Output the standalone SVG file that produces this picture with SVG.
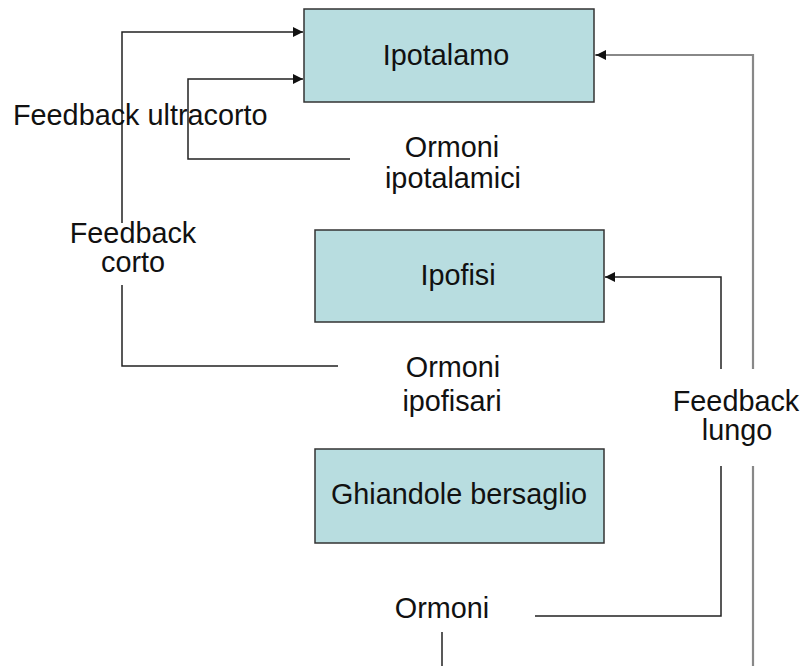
<svg xmlns="http://www.w3.org/2000/svg" width="803" height="666" viewBox="0 0 803 666">
<style>
.box{fill:#b8dde0;stroke:#333;stroke-width:1.5}
.t{font-family:"Liberation Sans",Arial,sans-serif;font-size:28.8px;fill:#111;text-anchor:middle}
.tl{font-family:"Liberation Sans",Arial,sans-serif;font-size:28.8px;fill:#111}
.c{fill:none;stroke:#222;stroke-width:1.5}
.g{fill:none;stroke:#888;stroke-width:2.2}
</style>
<defs>
<marker id="ah" markerWidth="10" markerHeight="10" refX="10" refY="5" orient="auto" markerUnits="userSpaceOnUse">
<path d="M0,0 L10,5 L0,10 Z" fill="#111"/>
</marker>
</defs>
<g id="connectors">
<polyline class="c" points="122,223 122,32 303,32" marker-end="url(#ah)"/>
<polyline class="c" points="122,285 122,366 338,366"/>
<polyline class="c" points="350,159 188,159 188,79 303,79" marker-end="url(#ah)"/>
<polyline class="c" points="721,369 721,277 605,277" marker-end="url(#ah)"/>
<polyline class="c" points="535,616 721,616 721,466"/>
<polyline class="g" points="753,369 753,55 595,55"/>
<line class="c" x1="605" y1="55" x2="596" y2="55" marker-end="url(#ah)"/>
<line class="g" x1="753" y1="466" x2="753" y2="666"/>
<line class="c" x1="442" y1="632" x2="442" y2="666"/>
</g>
<g id="ipotalamo">
<rect class="box" x="304" y="9" width="290" height="93"/>
<text class="t" x="446" y="65">Ipotalamo</text>
</g>
<g id="ipofisi">
<rect class="box" x="315" y="230" width="289" height="92"/>
<text class="t" x="458" y="285">Ipofisi</text>
</g>
<g id="ghiandole">
<rect class="box" x="315" y="449" width="289" height="94"/>
<text class="t" x="459" y="504">Ghiandole bersaglio</text>
</g>
<g id="labels">
<text class="tl" x="13" y="125">Feedback ultracorto</text>
<text class="t" x="452" y="157">Ormoni</text>
<text class="t" x="453" y="188">ipotalamici</text>
<text class="t" x="133" y="243">Feedback</text>
<text class="t" x="133" y="272">corto</text>
<text class="t" x="453" y="377">Ormoni</text>
<text class="t" x="452" y="411">ipofisari</text>
<text class="t" x="736" y="411">Feedback</text>
<text class="t" x="737" y="440">lungo</text>
<text class="t" x="442" y="618">Ormoni</text>
</g>
</svg>
